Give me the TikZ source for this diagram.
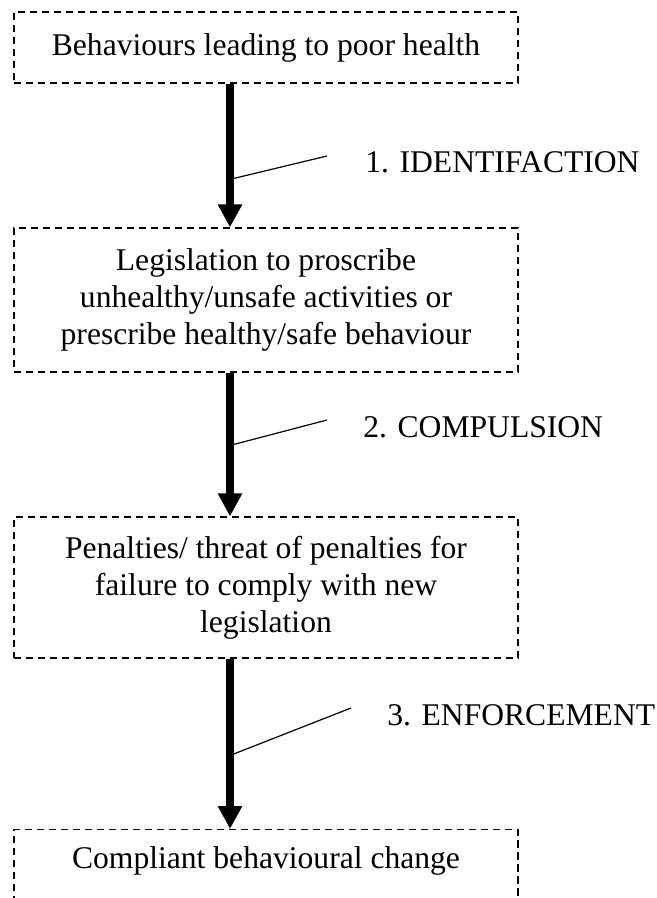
\documentclass[tikz,border=0pt]{standalone}
\usepackage{fontspec}
\setmainfont{Liberation Serif}
\usetikzlibrary{arrows.meta}
\begin{document}
\begin{tikzpicture}[x=0.5pt,y=-0.5pt,
  font=\fontsize{15.8}{18.4}\selectfont,
  box/.style={draw, line width=0.65pt, dash pattern=on 3.6pt off 2.4pt,
    minimum width=252pt, inner sep=0pt, align=center},
  flow/.style={line width=3.6pt, -{Triangle[width=11.5pt,length=11.5pt]}},
  tick/.style={line width=0.6pt},
  lab/.style={anchor=base west, inner sep=0pt}]
\useasboundingbox (0,0) rectangle (657,898);
\clip (0,0) rectangle (657,898);
% boxes
\node[box, minimum height=35.5pt] (b1) at (266,47.5) {Behaviours leading to poor health};
\node[box, minimum height=72pt] (b2) at (266,300) {Legislation to proscribe\\unhealthy/unsafe activities or\\prescribe healthy/safe behaviour};
\node[box, minimum height=70.5pt] (b3) at (266,587.5) {Penalties/ threat of penalties for\\failure to comply with new\\legislation};
\node[box, anchor=north, text height=12pt, text depth=30pt, inner ysep=7.5pt] (b4) at (266,829) {Compliant behavioural change};
% arrows
\coordinate (ax) at (230,0);
\draw[flow] (ax |- b1.south) -- coordinate[pos=0.66] (p1) (ax |- b2.north);
\draw[flow] (ax |- b2.south) -- coordinate[pos=0.50] (p2) (ax |- b3.north);
\draw[flow] (ax |- b3.south) -- coordinate[pos=0.56] (p3) (ax |- b4.north);
% labels
\node[lab] (l1) at (365,173) {1. IDENTIFACTION};
\node[lab] (l2) at (363,437) {2. COMPULSION};
\node[lab] (l3) at (387,725) {3. ENFORCEMENT};
\coordinate (e1) at (327,156);
\coordinate (e2) at (327,420);
\coordinate (e3) at (351,708);
\draw[tick] ([xshift=1.8pt]p1) -- (e1);
\draw[tick] ([xshift=1.8pt]p2) -- (e2);
\draw[tick] ([xshift=1.8pt]p3) -- (e3);
\end{tikzpicture}
\end{document}
